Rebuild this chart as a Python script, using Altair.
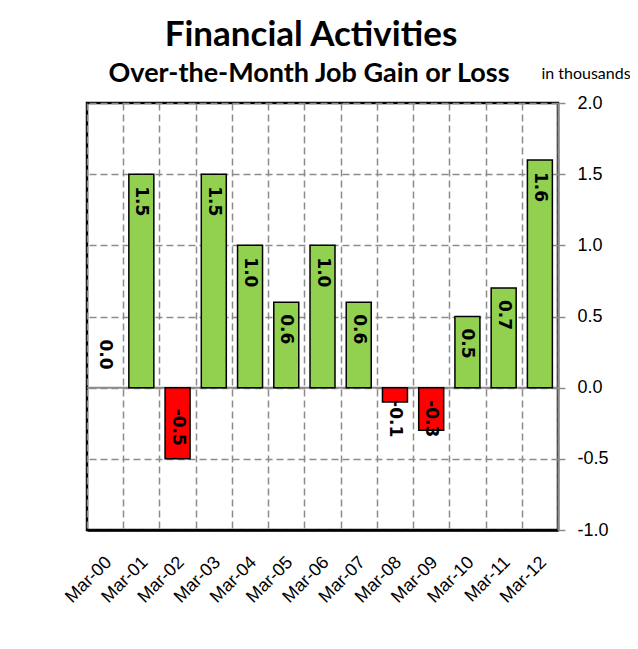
import altair as alt
import pandas as pd

categories = ["Mar-00", "Mar-01", "Mar-02", "Mar-03", "Mar-04", "Mar-05", "Mar-06",
              "Mar-07", "Mar-08", "Mar-09", "Mar-10", "Mar-11", "Mar-12"]
values = [0.0, 1.5, -0.5, 1.5, 1.0, 0.6, 1.0, 0.6, -0.1, -0.3, 0.5, 0.7, 1.6]
y_ticks = [-1.0, -0.5, 0.0, 0.5, 1.0, 1.5, 2.0]
title_text = "Financial Activities"
subtitle_text = "Over-the-Month Job Gain or Loss"
unit_text = "in thousands"

df = pd.DataFrame({"month": categories, "value": values})
df["label"] = [f"{v:.1f}" for v in values]

W, H = 471, 427
GRID = "#8c8c8c"

x_enc = alt.X(
    "month:N", sort=categories, title=None,
    scale=alt.Scale(paddingInner=0, paddingOuter=0),
    axis=alt.Axis(labelAngle=-45, labelAlign="right", labelBaseline="top",
                  labelFont="Liberation Sans", labelFontSize=18, labelColor="black",
                  labelPadding=23, labelOffset=-3, ticks=False, grid=True, tickBand="extent",
                  gridColor=GRID, gridDash=[7, 4], gridWidth=1.5,
                  domainColor="black", domainWidth=2.5),
)
y_scale = alt.Scale(domain=[-1, 2], nice=False, zero=False)
y_axis = alt.Axis(orient="right", values=y_ticks, format=".1f",
                  labelExpr="replace(datum.label, '\u2212', '-')",
                  labelFont="Liberation Sans", labelFontSize=18, labelColor="black",
                  labelPadding=12, tickSize=7, tickColor=GRID, tickWidth=1.5,
                  domainColor=GRID, domainWidth=2,
                  grid=True, gridColor=GRID, gridDash=[7, 4], gridWidth=1.5)


def y_of(field):
    return alt.Y(field, scale=y_scale, title=None, axis=y_axis)


base = alt.Chart(df)

zero_rule = alt.Chart(pd.DataFrame({"z": [0.0]})).mark_rule(color=GRID, strokeWidth=2).encode(
    y=y_of("z:Q")
)

bars = base.mark_bar(width=alt.RelativeBandSize(0.69), stroke="black", strokeWidth=1.5).encode(
    x=x_enc,
    y=y_of("value:Q"),
    color=alt.condition(alt.datum.value < 0, alt.value("#FF0000"), alt.value("#92D050")),
    strokeOpacity=alt.condition(alt.datum.value == 0, alt.value(0), alt.value(1)),
)

lab_style = dict(angle=90, baseline="middle", font="DejaVu Sans", fontWeight="bold",
                 fontSize=17, color="black")

pos_lab = base.transform_filter("datum.value > 0").mark_text(align="left", dx=12, **lab_style).encode(
    x=alt.X("month:N", sort=categories), y=y_of("value:Q"), text="label:N",
)
zero_lab = base.transform_filter("datum.value == 0").mark_text(align="right", dx=-18, **lab_style).encode(
    x=alt.X("month:N", sort=categories), y=y_of("value:Q"), text="label:N",
)
neg_lab = base.transform_filter("datum.value < 0").transform_calculate(
    lp="min(datum.value, -0.44)"
).mark_text(align="right", dx=-13, **lab_style).encode(
    x=alt.X("month:N", sort=categories), y=y_of("lp:Q"), text="label:N",
)

title_mark = alt.Chart(pd.DataFrame({"t": [title_text]})).mark_text(
    font="Lato", fontSize=35, fontWeight="bold", align="center", baseline="alphabetic", color="black"
).encode(text="t:N", x=alt.value(224), y=alt.value(-57))

subtitle_mark = alt.Chart(pd.DataFrame({"t": [subtitle_text]})).mark_text(
    font="Lato", fontSize=27, fontWeight="bold", align="center", baseline="alphabetic", color="black"
).encode(text="t:N", x=alt.value(222), y=alt.value(-21))

unit_mark = alt.Chart(pd.DataFrame({"t": [unit_text]})).mark_text(
    font="Lato", fontSize=16, align="center", baseline="alphabetic", color="black"
).encode(text="t:N", x=alt.value(499), y=alt.value(-24))

chart = alt.layer(zero_rule, bars, pos_lab, zero_lab, neg_lab,
                  title_mark, subtitle_mark, unit_mark).properties(
    width=W, height=H,
    autosize=alt.AutoSizeParams(type="none"),
    padding={"left": 79, "top": 95, "right": 72, "bottom": 111},
    background="white",
).configure_view(stroke="black", strokeWidth=2.5)

chart.save("out.html", embed_options={"renderer": "svg", "actions": False})
